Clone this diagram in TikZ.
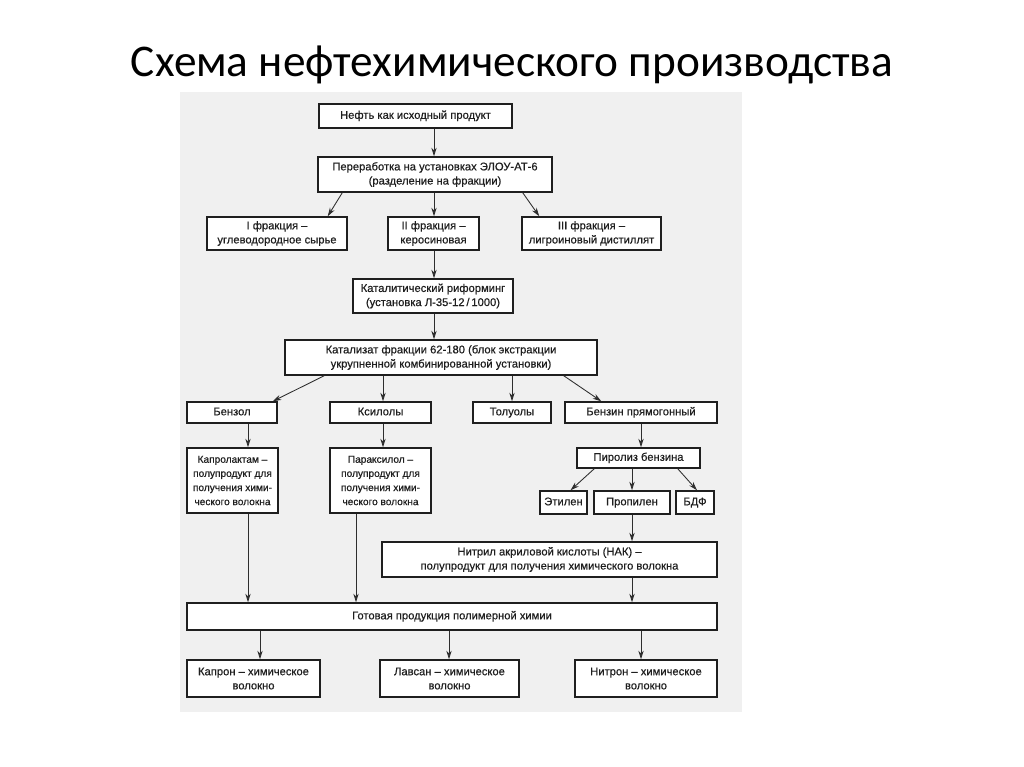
\documentclass[tikz,border=0pt]{standalone}
\usepackage{fontspec}
\setmainfont{Liberation Sans}
\newfontfamily\dfont{Liberation Sans}[FakeBold=0.5]
\newfontfamily\titlefont{Carlito}
\usetikzlibrary{arrows.meta,calc}
\newcommand\bx[7][]{\node[box,#1,minimum width={(#5-#3)*0.75pt},minimum height={(#6-#4)*0.75pt}] (#2) at ({(#3+#5)/2},{(#4+#6)/2}) {#7};}
\begin{document}
\begin{tikzpicture}[x=0.75pt,y=-0.75pt,
  box/.style={draw=black!88, line width=1.05pt, fill=white, inner sep=0pt, align=center,
    font=\dfont\fontsize{8.4}{10.6}\selectfont, text=black!88},
  small/.style={font=\dfont\fontsize{7.6}{10.6}\selectfont},
  arr/.style={draw=black!82, line width=0.65pt, -{Stealth[length=6.5pt,width=4pt]}}]
\useasboundingbox (0,0) rectangle (1024,767);
\fill[white] (0,0) rectangle (1024,767);
\fill[black!6] (180,92) rectangle (742,712);
\node[font=\titlefont\fontsize{34}{37}\selectfont, anchor=base] (title) at (512,77) {Схема нефтехимического производства};

\bx{neft}{319}{104}{512}{128}{\strut Нефть как исходный продукт}
\bx{pere}{318}{157}{552}{192}{Переработка на установках ЭЛОУ-АТ-6\\(разделение на фракции)}
\bx{fa}{207}{217}{347}{250}{I фракция –\\углеводородное сырье}
\bx{fb}{388}{217}{479}{250}{II фракция –\\керосиновая}
\bx{fc}{522}{217}{661}{250}{III фракция –\\лигроиновый дистиллят}
\bx{kref}{353}{279}{513}{313}{Каталитический риформинг\\(установка Л-35-12\,/\,1000)}
\bx{kat}{285}{340}{597}{375}{Катализат фракции 62-180 (блок экстракции\\укрупненной комбинированной установки)}
\bx{benz}{187}{402}{277}{423}{\strut Бензол}
\bx{ksil}{330}{402}{431}{423}{\strut Ксилолы}
\bx{tol}{473}{402}{551}{423}{\strut Толуолы}
\bx{bpr}{565}{402}{717}{423}{\strut Бензин прямогонный}
\bx[small]{kapl}{187}{448}{278}{513}{Капролактам –\\полупродукт для\\получения хими-\\ческого волокна}
\bx[small]{parx}{330}{448}{431}{513}{Параксилол –\\полупродукт для\\получения хими-\\ческого волокна}
\bx{pir}{577}{448}{700}{468}{\strut Пиролиз бензина}
\bx{etil}{540}{491}{587}{514}{\strut Этилен}
\bx{prop}{594}{491}{670}{514}{\strut Пропилен}
\bx{bdf}{676}{491}{714}{514}{\strut БДФ}
\bx{nak}{382}{542}{717}{577}{Нитрил акриловой кислоты (НАК) –\\полупродукт для получения химического волокна}
\bx{got}{187}{603}{717}{630}{\strut Готовая продукция полимерной химии}
\bx{kapr}{187}{660}{320}{697}{Капрон – химическое\\волокно}
\bx{lavs}{380}{660}{519}{697}{Лавсан – химическое\\волокно}
\bx{nitr}{575}{660}{717}{697}{Нитрон – химическое\\волокно}

\coordinate (sp) at (434,0);
\coordinate (c1) at (248,0);
\coordinate (c2) at (383,0);
\coordinate (c3) at (356,0);
\coordinate (c4) at (260,0);
\coordinate (c5) at (449,0);
\coordinate (c6) at (641,0);

\draw[arr] (neft.south -| sp) -- (pere.north -| sp);
\draw[arr] ($(pere.south west)+(25,0)$) -- ($(fa.north east)+(-20,0)$);
\draw[arr] (pere.south -| sp) -- (fb.north -| sp);
\draw[arr] ($(pere.south east)+(-30,0)$) -- ($(fc.north west)+(18,0)$);
\draw[arr] (fb.south -| sp) -- (kref.north -| sp);
\draw[arr] (kref.south -| sp) -- (kat.north -| sp);
\draw[arr] ($(kat.south west)+(40,0)$) -- ($(benz.north east)+(-5,0)$);
\draw[arr] (kat.south -| c2) -- (ksil.north -| c2);
\draw[arr] (kat.south -| tol.north) -- (tol.north);
\draw[arr] ($(kat.south east)+(-34,0)$) -- ($(bpr.north west)+(37,0)$);
\draw[arr] (benz.south -| c1) -- (kapl.north -| c1);
\draw[arr] (ksil.south -| c2) -- (parx.north -| c2);
\draw[arr] (bpr.south) -- (pir.north -| bpr.south);
\draw[arr] ($(pir.south west)+(18,0)$) -- ($(etil.north)+(7,0)$);
\draw[arr] (pir.south -| prop.north) -- (prop.north);
\draw[arr] ($(pir.south east)+(-23,0)$) -- ($(bdf.north)+(2,0)$);
\draw[arr] (prop.south) -- (nak.north -| prop.south);
\draw[arr] (kapl.south -| c1) -- (got.north -| c1);
\draw[arr] (parx.south -| c3) -- (got.north -| c3);
\draw[arr] (nak.south -| prop.south) -- (got.north -| prop.south);
\draw[arr] (got.south -| c4) -- (kapr.north -| c4);
\draw[arr] (got.south -| c5) -- (lavs.north -| c5);
\draw[arr] (got.south -| c6) -- (nitr.north -| c6);
\end{tikzpicture}
\end{document}
